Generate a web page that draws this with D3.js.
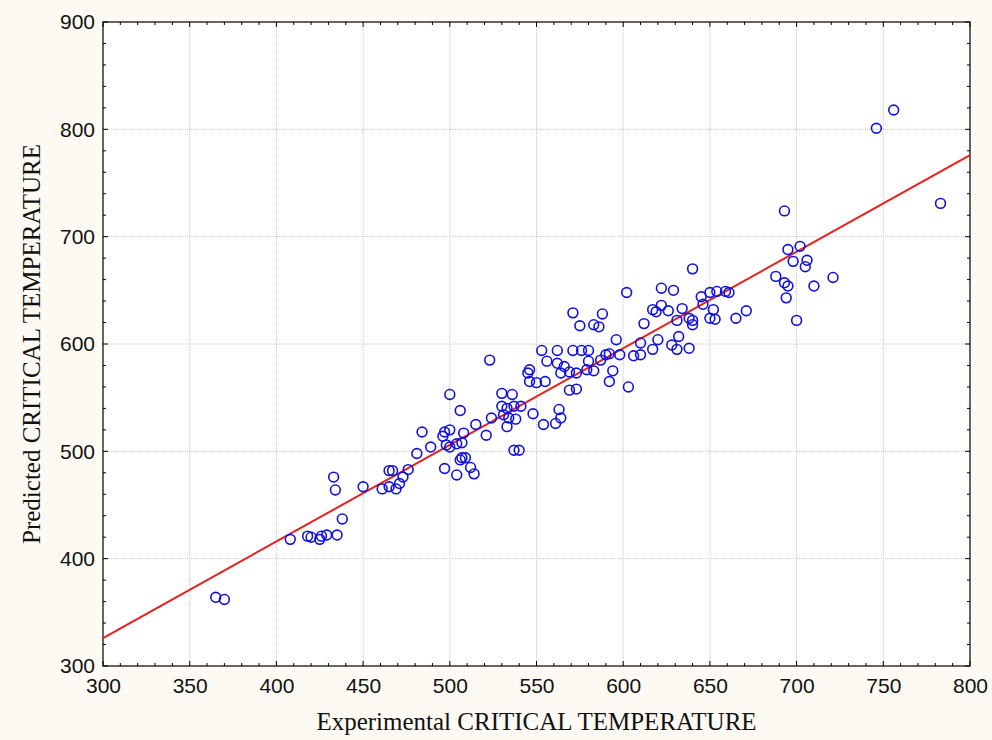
<!DOCTYPE html>
<html>
<head>
<meta charset="utf-8">
<script src="https://cdn.jsdelivr.net/npm/d3@7"></script>
<style>
  body { margin: 0; background: #fcfaf2; }
  svg { display: block; }
</style>
</head>
<body>
<div id="chart"></div>
<script>
// experimental vs predicted critical temperature
var experimental = [
    365, 370, 408, 418, 420, 425, 426, 429, 435, 438, 433, 434, 450,
    461, 465, 465, 467, 469, 471, 473, 476,
    481, 484, 489,
    497, 500, 496, 498, 500, 504, 507, 508, 507, 509, 506, 512, 514, 504, 497, 515, 500, 506,
    521, 524, 523, 530, 536, 530, 533, 537, 541, 531, 534, 538, 533, 537, 540,
    545, 546, 553, 562, 556, 562, 566, 564, 569, 573, 571, 576, 580, 579, 580, 546, 550, 555, 569, 573, 548, 563, 564, 561, 554,
    571, 575, 583, 586, 588,
    587, 590, 592, 598, 594, 583, 592, 603, 596, 602, 606, 610, 610, 612, 617, 617, 620, 619,
    622, 629, 640, 645, 650, 654, 659, 661, 646, 652, 650, 653, 665, 622, 626, 634, 631, 638, 640, 640, 632, 628, 631, 638,
    671, 688, 693, 695, 694, 695, 702, 698, 706, 705, 710, 721, 700, 693,
    746, 756, 783
];
var predicted = [
    364, 362, 418, 421, 420, 418, 421, 422, 422, 437, 476, 464, 467,
    465, 467, 482, 482, 465, 470, 476, 483,
    498, 518, 504,
    518, 520, 514, 506, 504, 507, 508, 517, 494, 494, 492, 485, 479, 478, 484, 525, 553, 538,
    515, 531, 585, 554, 553, 542, 540, 542, 542, 534, 531, 530, 523, 501, 501,
    573, 576, 594, 594, 584, 582, 579, 573, 574, 573, 594, 594, 594, 576, 584, 565, 564, 565, 557, 558, 535, 539, 531, 526, 525,
    629, 617, 618, 616, 628,
    585, 590, 591, 590, 575, 575, 565, 560, 604, 648, 589, 590, 601, 619, 632, 595, 604, 630,
    652, 650, 670, 644, 648, 649, 649, 648, 637, 632, 624, 623, 624, 636, 631, 633, 622, 624, 622, 618, 607, 599, 595, 596,
    631, 663, 657, 654, 643, 688, 691, 677, 678, 672, 654, 662, 622, 724,
    801, 818, 731
];

// fitted line end points
var fitX = [300, 800];
var fitY = [326, 776];

var xTicks = [300, 350, 400, 450, 500, 550, 600, 650, 700, 750, 800];
var yTicks = [300, 400, 500, 600, 700, 800, 900];

var width = 992, height = 740;
var margin = { top: 22, right: 22, bottom: 74, left: 103 };
var plotW = width - margin.left - margin.right;
var plotH = height - margin.top - margin.bottom;

var svg = d3.select("#chart")
    .append("svg")
    .attr("width", width)
    .attr("height", height);

var g = svg.append("g")
    .attr("transform", "translate(" + margin.left + "," + margin.top + ")");

var x = d3.scaleLinear().domain([300, 800]).range([0, plotW]);
var y = d3.scaleLinear().domain([300, 900]).range([plotH, 0]);

// white plot area
g.append("rect")
    .attr("width", plotW)
    .attr("height", plotH)
    .attr("fill", "#fff");

// dotted grid
g.append("g")
    .selectAll("line")
    .data(xTicks.slice(1, -1))
    .enter().append("line")
    .attr("x1", function (d) { return x(d); })
    .attr("x2", function (d) { return x(d); })
    .attr("y1", 0)
    .attr("y2", plotH)
    .attr("stroke", "#c8c8c8")
    .attr("stroke-dasharray", "1,1");

g.append("g")
    .selectAll("line")
    .data(yTicks.slice(1, -1))
    .enter().append("line")
    .attr("y1", function (d) { return y(d); })
    .attr("y2", function (d) { return y(d); })
    .attr("x1", 0)
    .attr("x2", plotW)
    .attr("stroke", "#c8c8c8")
    .attr("stroke-dasharray", "1,1");

// inward ticks on all four sides, minor every 10 on x and 20 on y
var xMinor = d3.range(300, 801, 10);
var yMinor = d3.range(300, 901, 20);

function tickLen(d, step) { return d % step === 0 ? 5 : 3; }

var ticks = g.append("g").attr("stroke", "#000").attr("stroke-width", 1);

ticks.selectAll(".xb").data(xMinor).enter().append("line")
    .attr("x1", function (d) { return x(d); })
    .attr("x2", function (d) { return x(d); })
    .attr("y1", plotH)
    .attr("y2", function (d) { return plotH - tickLen(d, 50); });
ticks.selectAll(".xt").data(xMinor).enter().append("line")
    .attr("x1", function (d) { return x(d); })
    .attr("x2", function (d) { return x(d); })
    .attr("y1", 0)
    .attr("y2", function (d) { return tickLen(d, 50); });
ticks.selectAll(".yl").data(yMinor).enter().append("line")
    .attr("y1", function (d) { return y(d); })
    .attr("y2", function (d) { return y(d); })
    .attr("x1", 0)
    .attr("x2", function (d) { return tickLen(d, 100); });
ticks.selectAll(".yr").data(yMinor).enter().append("line")
    .attr("y1", function (d) { return y(d); })
    .attr("y2", function (d) { return y(d); })
    .attr("x1", plotW)
    .attr("x2", function (d) { return plotW - tickLen(d, 100); });

// axes for the labels only
var xAxis = g.append("g")
    .attr("transform", "translate(0," + plotH + ")")
    .call(d3.axisBottom(x).tickValues(xTicks).tickSize(0).tickPadding(12));
var yAxis = g.append("g")
    .call(d3.axisLeft(y).tickValues(yTicks).tickSize(0).tickPadding(8));

[xAxis, yAxis].forEach(function (a) {
    a.select(".domain").remove();
    a.selectAll("text")
        .attr("fill", "#111")
        .style("font-family", "'Liberation Sans', Arial, sans-serif")
        .style("font-size", "21px");
});

// frame
g.append("rect")
    .attr("width", plotW)
    .attr("height", plotH)
    .attr("fill", "none")
    .attr("stroke", "#000")
    .attr("stroke-width", 1.2);

// regression line
var line = d3.line()
    .x(function (d) { return x(d[0]); })
    .y(function (d) { return y(d[1]); });

g.append("path")
    .datum(d3.zip(fitX, fitY))
    .attr("d", line)
    .attr("fill", "none")
    .attr("stroke", "#e8201c")
    .attr("stroke-width", 2);

// points
g.append("g")
    .selectAll("circle")
    .data(d3.zip(experimental, predicted))
    .enter().append("circle")
    .attr("cx", function (d) { return x(d[0]); })
    .attr("cy", function (d) { return y(d[1]); })
    .attr("r", 4.9)
    .attr("fill", "none")
    .attr("stroke", "#1010e0")
    .attr("stroke-width", 1.6);

// axis titles
svg.append("text")
    .attr("x", margin.left + plotW / 2)
    .attr("y", 730)
    .attr("text-anchor", "middle")
    .style("font-family", "'Liberation Serif', 'Times New Roman', serif")
    .style("font-size", "25px")
    .attr("fill", "#111")
    .text("Experimental CRITICAL TEMPERATURE");

svg.append("text")
    .attr("transform", "translate(40," + (margin.top + plotH / 2) + ") rotate(-90)")
    .attr("text-anchor", "middle")
    .style("font-family", "'Liberation Serif', 'Times New Roman', serif")
    .style("font-size", "25px")
    .attr("fill", "#111")
    .text("Predicted CRITICAL TEMPERATURE");
</script>
</body>
</html>
